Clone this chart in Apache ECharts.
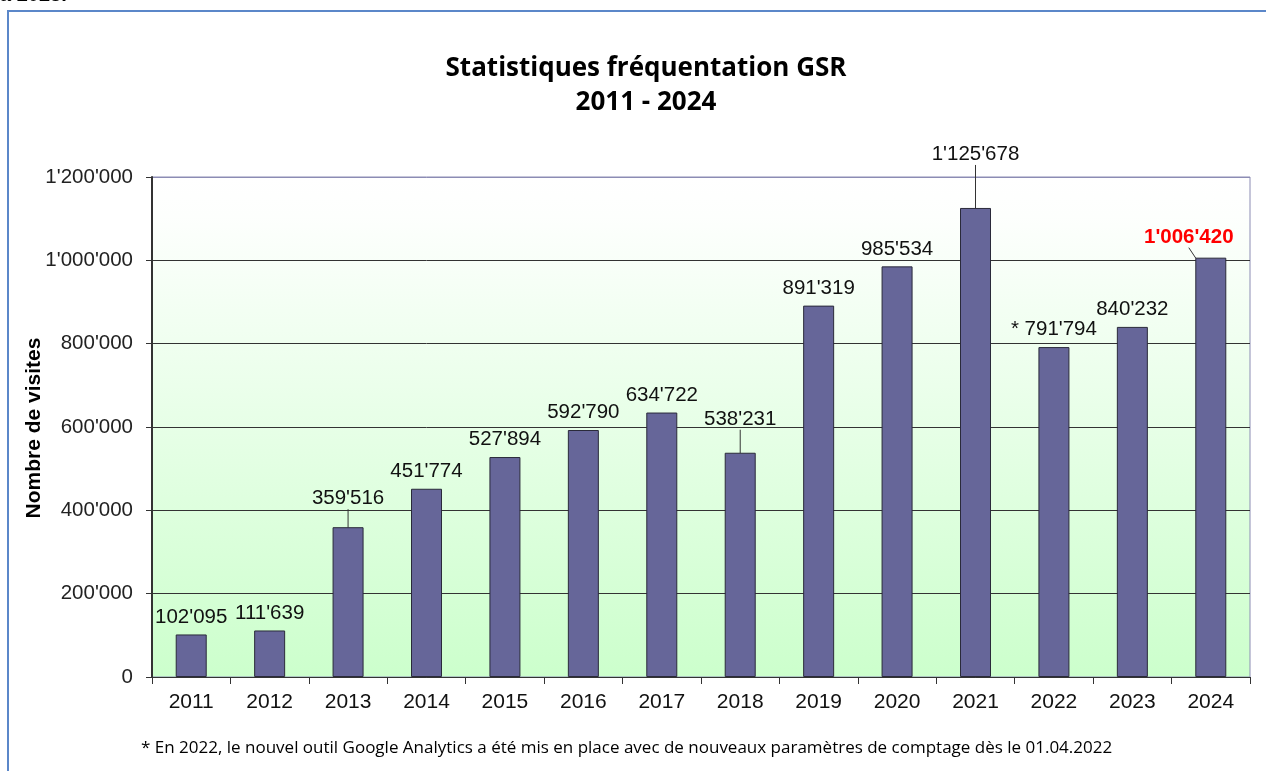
<!DOCTYPE html>
<html>
<head>
<meta charset="utf-8">
<script src="https://cdn.jsdelivr.net/npm/echarts@6/dist/echarts.min.js"></script>
<style>
html,body{margin:0;padding:0;background:#fff;}
#chart{width:1266px;height:771px;}
</style>
</head>
<body>
<div id="chart"></div>
<script>
// ---- data ----
const years = ['2011','2012','2013','2014','2015','2016','2017','2018','2019','2020','2021','2022','2023','2024'];
const visits = [102095,111639,359516,451774,527894,592790,634722,538231,891319,985534,1125678,791794,840232,1006420];
const yTicks = [0,200000,400000,600000,800000,1000000,1200000];
const titleLines = ['Statistiques fréquentation GSR','2011 - 2024'];
const yAxisName = 'Nombre de visites';
const footnote = '* En 2022, le nouvel outil Google Analytics a été mis en place avec de nouveaux paramètres de comptage dès le 01.04.2022';
const topText = 'à 2023.';

function fmt(v){
  return String(v).replace(/\B(?=(\d{3})+(?!\d))/g, "'");
}

// label adjustments (style, per year)
const labelShift = {
  '2013': {dy: -11, line: true},
  '2018': {dy: -16, line: true},
  '2021': {dy: -36, line: true},
  '2024': {dx: -22, dy: -3, line: true, red: true},
  '2022': {prefix: '* '}
};

const chart = echarts.init(document.getElementById('chart'));

const barData = visits.map((v, i) => {
  const s = labelShift[years[i]] || {};
  const item = {value: v};
  if (s.line) item.labelLine = {show: true, lineStyle: {color: '#333', width: 1}};
  if (s.red) item.label = {color: '#ff0000', fontWeight: 'bold'};
  return item;
});

const yMax = yTicks[yTicks.length - 1];
const yStep = yTicks[1] - yTicks[0];

const option = {
  animation: false,
  backgroundColor: '#ffffff',
  graphic: [
    {type: 'rect', shape: {x: 8, y: 11, width: 1300, height: 800}, style: {fill: 'none', stroke: '#5b87c9', lineWidth: 2}, z: 0},
    {type: 'text', x: 0, y: 5, style: {text: topText, font: 'bold 20px "Liberation Sans", Arial', fill: '#000', textVerticalAlign: 'bottom'}},
    {type: 'text', x: 646, y: 69, style: {text: titleLines[0], font: 'bold 26px "Open Sans"', fill: '#000', textAlign: 'center', textVerticalAlign: 'middle'}},
    {type: 'text', x: 646, y: 103, style: {text: titleLines[1], font: 'bold 26px "Open Sans"', fill: '#000', textAlign: 'center', textVerticalAlign: 'middle'}},
    {type: 'text', x: 141, y: 748, style: {text: footnote, font: '17px "Open Sans"', fill: '#000', textAlign: 'left', textVerticalAlign: 'middle'}},
    {type: 'text', x: 34, y: 428, rotation: Math.PI / 2, style: {text: yAxisName, font: 'bold 21px "Liberation Sans", Arial', fill: '#000', textAlign: 'center', textVerticalAlign: 'middle'}}
  ],
  grid: {
    left: 152, right: 16, top: 177, bottom: 94,
    show: true,
    borderColor: '#8c8cb4', borderWidth: 1,
    backgroundColor: {
      type: 'linear', x: 0, y: 0, x2: 0, y2: 1,
      colorStops: [{offset: 0, color: '#ffffff'}, {offset: 0.08, color: '#fdfffd'}, {offset: 1, color: '#ccffcc'}]
    }
  },
  xAxis: {
    type: 'category',
    data: years,
    axisLine: {show: true, lineStyle: {color: '#333', width: 1}},
    axisTick: {show: true, length: 7, lineStyle: {color: '#333'}},
    axisLabel: {color: '#111', fontSize: 21, fontFamily: '"Liberation Sans", Arial', margin: 15}
  },
  yAxis: {
    type: 'value',
    min: 0, max: yMax, interval: yStep,
    axisLine: {show: true, lineStyle: {color: '#333', width: 2}},
    axisTick: {show: true, length: 6, inside: false, lineStyle: {color: '#333'}},
    axisLabel: {color: '#222', fontSize: 20.5, fontFamily: '"Liberation Sans", Arial', margin: 19, formatter: v => fmt(v)},
    splitLine: {show: true, lineStyle: {color: ['#333','#333','#333','#333','#333','#333','#8c8cb4'], width: 1}}
  },
  series: [{
    type: 'bar',
    data: barData,
    barWidth: 31,
    itemStyle: {color: '#666699', borderColor: '#2a2a3a', borderWidth: 1},
    label: {
      show: true, position: 'top', distance: 7,
      fontSize: 20.5, color: '#111', fontFamily: '"Liberation Sans", Arial',
      formatter: p => ((labelShift[years[p.dataIndex]] || {}).prefix || '') + fmt(p.value)
    },
    labelLayout: p => {
      const s = labelShift[years[p.dataIndex]];
      if (!s) return {};
      return {dx: s.dx || 0, dy: s.dy || 0};
    },
    labelLine: {show: false}
  }]
};
chart.setOption(option);
</script>
</body>
</html>
